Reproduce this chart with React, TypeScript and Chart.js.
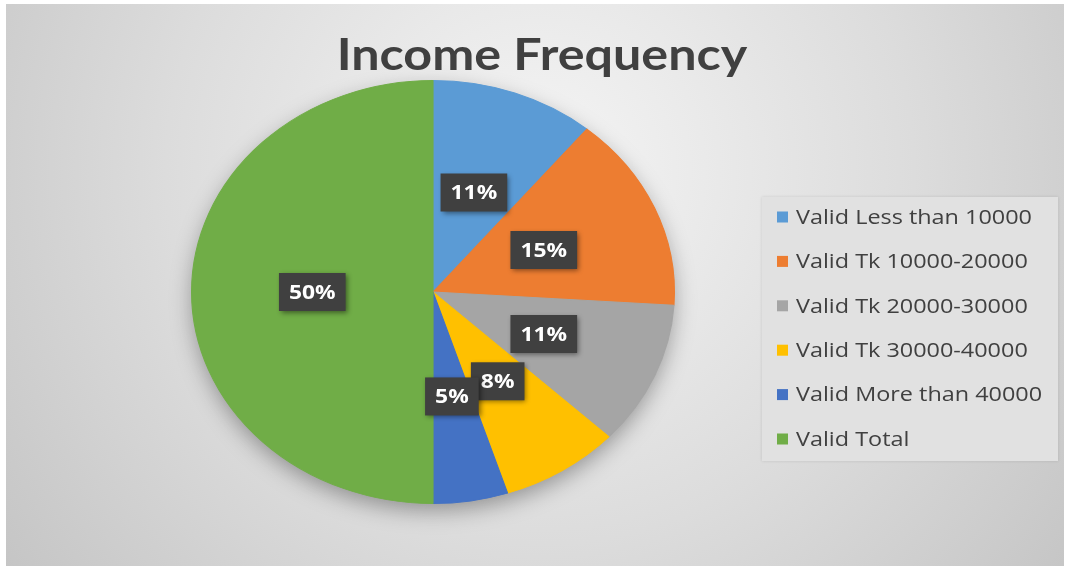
import React, { useEffect, useRef } from "react";
import { Chart, registerables } from "chart.js";

Chart.register(...registerables);

const TITLE = "Income Frequency";
const categories = [
  "Valid Less than 10000",
  "Valid Tk 10000-20000",
  "Valid Tk 20000-30000",
  "Valid Tk 30000-40000",
  "Valid More than 40000",
  "Valid Total",
];
const percentages = [11, 15, 11, 8, 5, 50];
const sliceColors = ["#5B9BD5", "#ED7D31", "#A5A5A5", "#FFC000", "#4472C4", "#70AD47"];

const X_STRETCH = 242 / 212;
const TEXT_COLOR = "#404040";

function pieGeom(chart: any) {
  const meta = chart.getDatasetMeta(0);
  const arc: any = meta.data[0];
  return { cx: arc.x, cy: arc.y, r: arc.outerRadius, arcs: meta.data };
}

function stretchedText(ctx: any, txt: string, x: number, y: number, align: string) {
  ctx.save();
  ctx.translate(x, y);
  ctx.scale(X_STRETCH, 1);
  ctx.textAlign = align;
  ctx.textBaseline = "middle";
  ctx.fillText(txt, 0, 0);
  ctx.restore();
}

const backgroundPlugin = {
  id: "bg",
  beforeDraw(chart: any) {
    const { ctx, width, height } = chart;
    ctx.save();
    ctx.fillStyle = "#ffffff";
    ctx.fillRect(0, 0, width, height);
    const g = ctx.createRadialGradient(540, 170, 0, 540, 170, 680);
    g.addColorStop(0, "#f5f5f5");
    g.addColorStop(0.55, "#dcdcdc");
    g.addColorStop(1, "#c4c4c4");
    ctx.fillStyle = g;
    ctx.fillRect(6, 4, width - 12, height - 4);
    ctx.restore();
  },
};

const ellipsePlugin = {
  id: "ellipse",
  beforeDatasetsDraw(chart: any) {
    const { ctx } = chart;
    const { cx, cy, r } = pieGeom(chart);
    ctx.save();
    ctx.translate(cx, cy);
    ctx.scale(X_STRETCH, 1);
    ctx.translate(-cx, -cy);
    ctx.save();
    ctx.shadowColor = "rgba(0,0,0,0.35)";
    ctx.shadowBlur = 22;
    ctx.shadowOffsetY = 8;
    ctx.beginPath();
    ctx.arc(cx, cy, r - 1, 0, Math.PI * 2);
    ctx.fillStyle = sliceColors[5];
    ctx.fill();
    ctx.restore();
  },
  afterDatasetsDraw(chart: any) {
    chart.ctx.restore();
  },
};

const overlayPlugin = {
  id: "overlay",
  afterDraw(chart: any) {
    const { ctx } = chart;
    const { cx, arcs } = pieGeom(chart);
    ctx.save();

    // Title
    ctx.fillStyle = TEXT_COLOR;
    ctx.font = "bold 44px Lato";
    stretchedText(ctx, TITLE, 542, 56, "center");

    // Data labels
    const total = percentages.reduce((a, b) => a + b, 0);
    ctx.font = "bold 20px 'Open Sans'";
    arcs.forEach((arc: any, i: number) => {
      const p = arc.tooltipPosition();
      const x = cx + (p.x - cx) * X_STRETCH;
      const y = p.y;
      const txt = Math.round((percentages[i] / total) * 100) + "%";
      const tw = ctx.measureText(txt).width * X_STRETCH;
      const bw = tw + 20;
      const bh = 38;
      ctx.save();
      ctx.shadowColor = "rgba(0,0,0,0.45)";
      ctx.shadowBlur = 5;
      ctx.shadowOffsetX = 2;
      ctx.shadowOffsetY = 2;
      ctx.fillStyle = "#404040";
      ctx.fillRect(x - bw / 2, y - bh / 2, bw, bh);
      ctx.restore();
      ctx.fillStyle = "#ffffff";
      stretchedText(ctx, txt, x, y + 1, "center");
    });

    // Legend
    ctx.save();
    ctx.shadowColor = "rgba(0,0,0,0.12)";
    ctx.shadowBlur = 3;
    ctx.fillStyle = "#e1e1e1";
    ctx.fillRect(762, 197, 296, 264);
    ctx.restore();
    ctx.font = "20.5px 'Open Sans'";
    categories.forEach((label, i) => {
      const y = 217 + i * 44.4;
      ctx.fillStyle = sliceColors[i];
      ctx.fillRect(777, y - 5.5, 11, 11);
      ctx.fillStyle = TEXT_COLOR;
      stretchedText(ctx, label, 796, y + 1, "left");
    });
    ctx.restore();
  },
};

export default function App() {
  const canvasRef = useRef<HTMLCanvasElement>(null);

  useEffect(() => {
    if (!canvasRef.current) return;
    const chart = new Chart(canvasRef.current, {
      type: "pie",
      data: {
        labels: categories,
        datasets: [
          {
            data: percentages,
            backgroundColor: sliceColors,
            borderColor: sliceColors,
            borderWidth: 1,
          },
        ],
      },
      options: {
        animation: false,
        responsive: true,
        maintainAspectRatio: false,
        layout: { padding: { top: 80, bottom: 62, left: 200, right: 404 } },
        plugins: {
          legend: { display: false },
          title: { display: false },
          tooltip: { enabled: false },
        },
      },
      plugins: [backgroundPlugin, ellipsePlugin, overlayPlugin],
    });
    return () => chart.destroy();
  }, []);

  return (
    <div style={{ position: "absolute", left: 0, top: 0, width: 1070, height: 566 }}>
      <canvas ref={canvasRef} />
    </div>
  );
}
